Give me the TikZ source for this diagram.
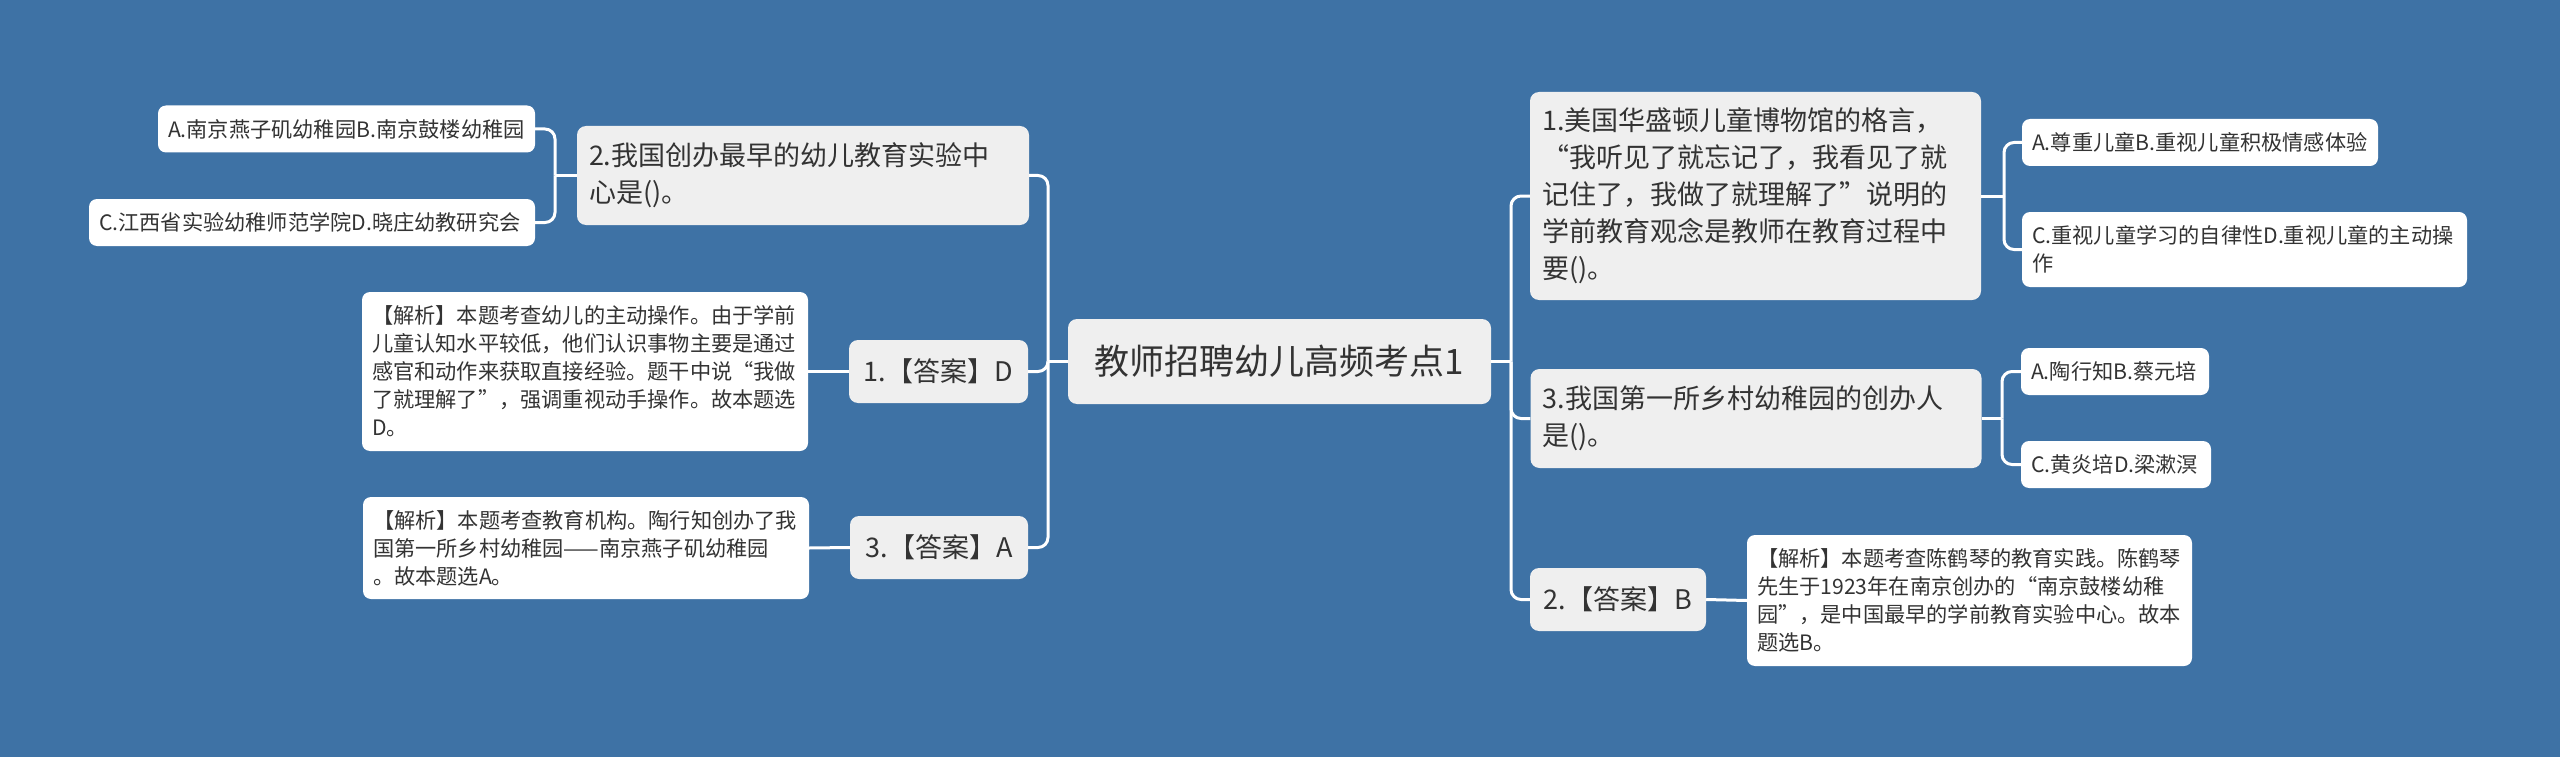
\documentclass[tikz,border=0pt]{standalone}
\usepackage{fontspec}
\setmainfont{Noto Sans CJK SC}
\definecolor{bg}{HTML}{3E72A5}
\definecolor{graybox}{HTML}{EFEFEF}
\definecolor{txt}{HTML}{333333}
\begin{document}
\begin{tikzpicture}[x=1pt,y=-1pt,
  topic/.style={fill=graybox,rounded corners=9pt,text=txt,inner ysep=0pt,inner xsep=12pt,align=left,font=\fontsize{27}{37}\selectfont},
  leaf/.style={fill=white,rounded corners=8pt,text=txt,inner ysep=0pt,inner xsep=10pt,align=left,font=\fontsize{21.2}{28}\selectfont},
  conn/.style={draw=white,line width=3pt,rounded corners=10pt}]
\fill[bg] (0,0) rectangle (2560,757);
\useasboundingbox (0,0) rectangle (2560,757);

% centre
\node[topic,align=center,text width=383pt,minimum height=85pt,font=\fontsize{35}{42}\selectfont,inner xsep=20pt] (c) at (1279.5,361.5) {教师招聘幼儿高频考点1};

% left side
\node[topic,text width=428pt,minimum height=99pt] (l2) at (803,175.5) {2.我国创办最早的幼儿教育实验中\\心是()。};
\node[leaf,text width=357pt,minimum height=47pt] (l2a) at (346.5,129) {A.南京燕子矶幼稚园B.南京鼓楼幼稚园};
\node[leaf,text width=426pt,minimum height=47pt] (l2c) at (312,222.5) {C.江西省实验幼稚师范学院D.晓庄幼教研究会};

\node[topic,align=center,text width=155pt,minimum height=63pt] (l1) at (938.5,371.5) {1.【答案】D};
\node[leaf,text width=426pt,minimum height=159pt] (l1c) at (585,371.5) {【解析】本题考查幼儿的主动操作。由于学前\\儿童认知水平较低，他们认识事物主要是通过\\感官和动作来获取直接经验。题干中说“我做\\了就理解了”，强调重视动手操作。故本题选\\D。};

\node[topic,align=center,text width=154pt,minimum height=63pt] (l3) at (939,547.5) {3.【答案】A};
\node[leaf,text width=426pt,minimum height=102pt] (l3c) at (586,548) {【解析】本题考查教育机构。陶行知创办了我\\国第一所乡村幼稚园——南京燕子矶幼稚园\\。故本题选A。};

% right side
\node[topic,text width=427pt,minimum height=208pt] (r1) at (1755.5,196) {1.美国华盛顿儿童博物馆的格言，\\“我听见了就忘记了，我看见了就\\记住了，我做了就理解了”说明的\\学前教育观念是教师在教育过程中\\要()。};
\node[leaf,text width=336pt,minimum height=47pt] (r1a) at (2200,142.5) {A.尊重儿童B.重视儿童积极情感体验};
\node[leaf,text width=425pt,minimum height=75pt] (r1c) at (2244.5,249.5) {C.重视儿童学习的自律性D.重视儿童的主动操\\作};

\node[topic,text width=427pt,minimum height=99pt] (r3) at (1756,418.5) {3.我国第一所乡村幼稚园的创办人\\是()。};
\node[leaf,text width=168pt,minimum height=47pt] (r3a) at (2115,371.5) {A.陶行知B.蔡元培};
\node[leaf,text width=170pt,minimum height=47pt] (r3c) at (2116,464.5) {C.黄炎培D.梁漱溟};

\node[topic,align=center,text width=152pt,minimum height=63pt] (r2) at (1618,599.5) {2.【答案】B};
\node[leaf,text width=425pt,minimum height=131pt] (r2c) at (1969.5,600.5) {【解析】本题考查陈鹤琴的教育实践。陈鹤琴\\先生于1923年在南京创办的“南京鼓楼幼稚\\园”，是中国最早的学前教育实验中心。故本\\题选B。};

% trunk coordinates
\coordinate (lt) at (1048,0);
\coordinate (rt) at (1511,0);
\coordinate (l2t) at (555,0);
\coordinate (r1t) at (2004,0);
\coordinate (r3t) at (2002,0);

\draw[conn,rounded corners=0pt] (c.west) -- (c.west -| lt);
\draw[conn] (c.west -| lt) |- (l2.east);
\draw[conn] (c.west -| lt) |- (l1.east);
\draw[conn] (c.west -| lt) |- (l3.east);
\draw[conn,rounded corners=0pt] (c.east) -- (c.east -| rt);
\draw[conn] (c.east -| rt) |- (r1.west);
\draw[conn] (c.east -| rt) |- (r3.west);
\draw[conn] (c.east -| rt) |- (r2.west);

\draw[conn,rounded corners=0pt] (l2.west) -- (l2.west -| l2t);
\draw[conn] (l2.west -| l2t) |- (l2a.east);
\draw[conn] (l2.west -| l2t) |- (l2c.east);
\draw[conn] (l1.west) -- (l1c.east);
\draw[conn] (l3.west) -- (l3c.east);

\draw[conn,rounded corners=0pt] (r1.east) -- (r1.east -| r1t);
\draw[conn] (r1.east -| r1t) |- (r1a.west);
\draw[conn] (r1.east -| r1t) |- (r1c.west);
\draw[conn,rounded corners=0pt] (r3.east) -- (r3.east -| r3t);
\draw[conn] (r3.east -| r3t) |- (r3a.west);
\draw[conn] (r3.east -| r3t) |- (r3c.west);
\draw[conn] (r2.east) -- (r2c.west);
\end{tikzpicture}
\end{document}
